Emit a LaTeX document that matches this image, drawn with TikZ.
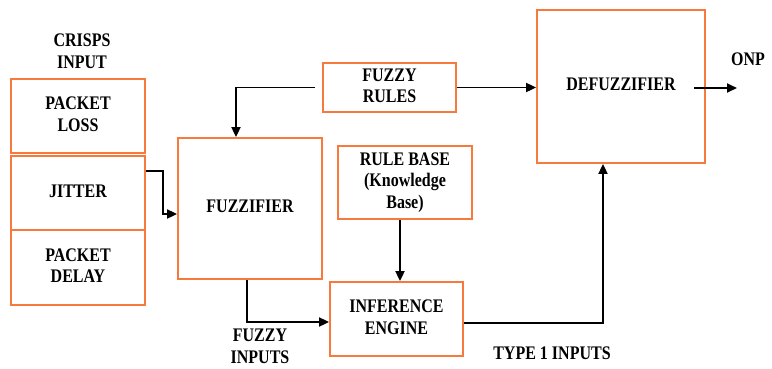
\documentclass[tikz,border=0pt]{standalone}
\usepackage{fontspec}
\setmainfont{Liberation Serif}
\usepackage{graphicx}
\usetikzlibrary{arrows.meta}
\definecolor{boxor}{RGB}{247,122,60}
\newcommand\tx[1]{\scalebox{1}[1.2]{\fontsize{16}{18}\selectfont\bfseries\begin{tabular}{@{}c@{}}#1\end{tabular}}}
\tikzset{
  box/.style={draw=boxor, line width=1.8pt, rectangle, inner sep=0pt, align=center},
  lbl/.style={inner sep=0pt, align=center},
  arr/.style={draw=black, line width=1.8pt, -{Triangle[length=10pt,width=9pt]}},
}
\begin{document}
\begin{tikzpicture}[x=1pt,y=-1pt]
\useasboundingbox (0,0) rectangle (772,368);
\node[box, minimum width=134pt, minimum height=74pt] (loss) at (78,116) {\tx{PACKET\\LOSS}};
\node[box, minimum width=134pt, minimum height=74pt] (jitter) at (78,193) {\tx{JITTER}};
\node[box, minimum width=134pt, minimum height=75pt] (delay) at (78,267.5) {\tx{PACKET\\DELAY}};
\node[lbl] (crisp) at (82,53) {\tx{CRISPS\\INPUT}};
\node[box, minimum width=144pt, minimum height=141pt] (fuzz) at (250,208.5) {\tx{FUZZIFIER}};
\node[box, minimum width=133pt, minimum height=49pt] (rules) at (389.5,87.5) {\tx{FUZZY\\RULES}};
\node[box, minimum width=134pt, minimum height=73pt] (rbase) at (405,182.5) {\tx{RULE BASE\\(Knowledge\\Base)}};
\node[box, minimum width=133pt, minimum height=74pt] (inf) at (396.5,319) {\tx{INFERENCE\\ENGINE}};
\node[box, minimum width=168pt, minimum height=153pt] (defuzz) at (621,86.5) {\tx{DEFUZZIFIER}};
\node[lbl] (finp) at (260,348) {\tx{FUZZY\\INPUTS}};
\node[lbl] (t1) at (552,355) {\tx{TYPE 1 INPUTS}};
\node[lbl] (onp) at (748,61) {\tx{ONP}};
\coordinate (outend) at (737,88);
\coordinate (outstart) at (694,88);

\draw[arr] ([yshift=-16pt]jitter.north east) -- ++(17,0) |- ([yshift=-5.5pt]fuzz.west);
\draw[arr] ([xshift=-7pt]rules.west) -| ([xshift=-14pt]fuzz.north);
\draw[arr] (rules.east) -- (rules.east -| defuzz.west);
\draw[arr] ([xshift=-5pt]rbase.south) -- ([xshift=-5pt]rbase.south |- inf.north);
\draw[arr] ([xshift=-3pt]fuzz.south) |- ([yshift=-3pt]inf.west);
\draw[arr] ([yshift=-4pt]inf.east) -| ([xshift=-18pt]defuzz.south);
\draw[arr] (outstart) -- (outend);
\end{tikzpicture}
\end{document}
